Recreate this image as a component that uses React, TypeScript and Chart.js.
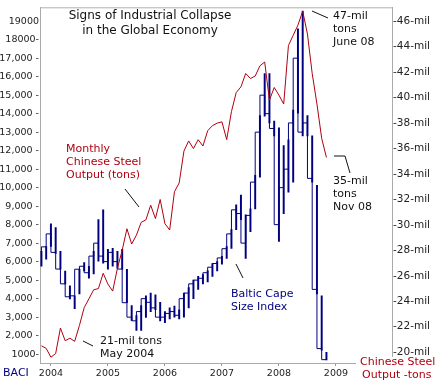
import React, { useEffect, useRef } from "react";
import { Chart, registerables } from "chart.js";
Chart.register(...registerables);

// month index: 0 = Jan 2004
const months = [-2,-1,0,1,2,3,4,5,6,7,8,9,10,11,12,13,14,15,16,17,18,19,20,21,22,23,24,25,26,27,28,29,30,31,32,33,34,35,36,37,38,39,40,41,42,43,44,45,46,47,48,49,50,51,52,53,54,55,56,57,58];

// Monthly Chinese steel output (million tons)
const steelMil = [20.5,20.3,19.6,19.9,21.9,20.9,21.1,20.85,22.1,23.5,24.2,24.9,25.0,26.2,25.35,24.8,26.6,28.0,29.7,28.5,29.2,30.2,30.4,31.55,30.5,32.0,30.1,29.6,32.6,33.3,35.8,36.6,36.0,36.7,36.2,37.4,37.8,38.0,38.1,36.7,38.9,40.4,40.85,41.9,41.5,41.7,42.5,42.8,39.8,40.8,40.2,39.5,44.1,44.9,45.7,46.8,45.0,41.9,39.5,36.8,35.3];

// Baltic Cape Size Index monthly range
const balticLow = [5760,6130,6820,6450,5590,4790,3990,3460,4260,5500,5110,5330,6020,5915,5590,5750,5650,5590,3780,2820,2280,2280,2980,3300,3400,2800,2700,2900,3000,2900,3000,3500,4000,4500,4800,4900,5200,5500,5860,6180,6720,7730,8270,6180,7620,8850,10560,13870,13500,12800,7090,8590,9760,10300,14030,12800,12800,10300,4260,1210,680];
const balticHigh = [6560,6820,8050,7840,6560,5490,4690,4150,5590,5950,5750,6560,8270,8800,6660,6715,6560,6660,5590,3620,3080,3620,4150,4300,4200,3800,3300,3500,3600,3400,4300,4600,5000,5200,5300,5500,5900,6000,6290,6820,7730,9070,9600,8530,8850,10670,13900,16170,16170,13600,13230,12270,12590,14200,18580,19540,13900,12800,10130,4150,1100];
const balticClose = [6500,6800,7500,6500,5600,4800,4100,4150,5590,5750,5400,6300,7000,6300,6000,6500,6000,5600,3780,3000,2800,3300,4000,3800,3500,3000,3000,3200,3300,3100,4000,4300,4800,5000,5100,5400,5700,5900,6200,6700,7500,8800,8600,7000,8500,10300,13000,15000,14000,13200,8000,10000,11000,13500,17000,13000,13500,10500,4500,1300,700];

const yearTicks = [0,12,24,36,48,60];
const yearLabels = ["2004","2005","2006","2007","2008","2009"];
const leftTicks = [1000,2000,3000,4000,5000,6000,7000,8000,9000,10000,11000,12000,13000,14000,15000,16000,17000,18000,19000];
const leftLabels = ["1000-","2,000 -","3,000 -","4,000 -","5,000 -","6,000 -","7,000 -","8,000 -","9,000 -","10,000 -","11,000 -","12,000 -","13,000 -","14,000 -","15,000 -","16,000 -","17,000 -","18000-","19000"];
const rightTicks = [20,22,24,26,28,30,32,34,36,38,40,42,44,46];

const RED = "#b00010";
const BLUE = "#000080";
const FONT = "DejaVu Sans";

const overlay = {
  id: "overlay",
  afterDraw(chart: any) {
    const ctx = chart.ctx;
    const ca = chart.chartArea;
    ctx.save();
    ctx.strokeStyle = "#b0b0b0";
    ctx.lineWidth = 1;
    ctx.beginPath();
    ctx.moveTo(ca.left, ca.top + 0.5);
    ctx.lineTo(ca.right, ca.top + 0.5);
    ctx.stroke();
    ctx.fillStyle = "#ffffff";
    ctx.fillRect(356, 357, 85, 26);

    const text = (s: string, x: number, y: number, color: string, size = 11, align: CanvasTextAlign = "left") => {
      ctx.font = `${size}px "${FONT}"`;
      ctx.fillStyle = color;
      ctx.textAlign = align;
      ctx.textBaseline = "middle";
      ctx.fillText(s, x, y);
    };
    const line = (pts: number[][], color: string) => {
      ctx.strokeStyle = color;
      ctx.lineWidth = 1;
      ctx.beginPath();
      pts.forEach((p, i) => (i ? ctx.lineTo(p[0], p[1]) : ctx.moveTo(p[0], p[1])));
      ctx.stroke();
    };

    text("Signs of Industrial Collapse", 150, 16, "#111", 12, "center");
    text("in the Global Economy", 150, 31, "#111", 12, "center");

    text("47-mil", 333, 16, "#111");
    text("tons", 333, 29, "#111");
    text("June 08", 333, 42, "#111");
    line([[312, 11], [328, 18]], "#111");

    text("35-mil", 333, 181, "#111");
    text("tons", 333, 194, "#111");
    text("Nov 08", 333, 207, "#111");
    line([[334, 156], [345, 156], [350, 173]], "#111");

    text("Monthly", 66, 149, RED);
    text("Chinese Steel", 66, 162, RED);
    text("Output (tons)", 66, 175, RED);
    line([[125, 189], [139, 207]], "#111");

    text("Baltic Cape", 231, 294, BLUE);
    text("Size Index", 231, 307, BLUE);
    line([[236, 264], [243, 278]], "#111");

    text("21-mil tons", 100, 341, "#111");
    text("May 2004", 100, 354, "#111");
    line([[83, 341], [93, 346]], "#111");

    text("BACI", 3, 373, BLUE);
    text("Chinese Steel", 360, 362, RED);
    text("Output -tons", 362, 375, RED);
    ctx.restore();
  },
};

export default function App() {
  const ref = useRef<HTMLCanvasElement | null>(null);
  useEffect(() => {
    if (!ref.current) return;
    const chart = new Chart(ref.current, {
      type: "bar",
      data: {
        datasets: [
          {
            type: "line",
            label: "Steel",
            data: months.map((m, i) => ({ x: m, y: steelMil[i] })),
            yAxisID: "y2",
            xAxisID: "x",
            borderColor: RED,
            borderWidth: 1,
            pointRadius: 0,
            tension: 0,
            order: 0,
          } as any,
          {
            type: "bar",
            label: "BACI range",
            data: months.map((m, i) => ({ x: m, y: [balticLow[i], balticHigh[i]] })),
            yAxisID: "y",
            xAxisID: "x",
            backgroundColor: BLUE,
            borderWidth: 0,
            barThickness: 1.3,
            grouped: false,
            order: 2,
          } as any,
          {
            type: "line",
            label: "BACI close",
            data: months.map((m, i) => ({ x: m, y: balticClose[i] })),
            yAxisID: "y",
            xAxisID: "x",
            borderColor: BLUE,
            borderWidth: 1,
            pointRadius: 0,
            stepped: "after",
            order: 1,
          } as any,
        ],
      },
      options: {
        animation: false,
        responsive: false,
        maintainAspectRatio: false,
        layout: { padding: { top: 3, left: 0, right: 0, bottom: 0 } },
        plugins: { legend: { display: false }, tooltip: { enabled: false }, title: { display: false } },
        scales: {
          x: {
            type: "linear",
            offset: false,
            min: -2.3,
            max: 71.8,
            position: "bottom",
            afterBuildTicks: (s: any) => {
              s.ticks = yearTicks.map((v) => ({ value: v }));
            },
            afterFit: (s: any) => {
              s.height = 20;
            },
            ticks: {
              autoSkip: false,
              maxRotation: 0,
              padding: 2,
              color: "#222",
              font: { family: FONT, size: 9.5 },
              callback: (v: any) => {
                const i = yearTicks.indexOf(Number(v));
                return i >= 0 ? yearLabels[i] : "";
              },
            },
            grid: { offset: false, drawOnChartArea: false, drawTicks: true, tickLength: 3, color: "#999" },
            border: { color: "#aaa" },
          },
          y: {
            position: "left",
            min: 520,
            max: 19750,
            afterBuildTicks: (s: any) => {
              s.ticks = leftTicks.map((v) => ({ value: v }));
            },
            afterFit: (s: any) => {
              s.width = 40;
            },
            ticks: {
              autoSkip: false,
              padding: 1,
              color: "#222",
              font: { family: FONT, size: 9.5 },
              callback: (v: any) => {
                const i = leftTicks.indexOf(Number(v));
                return i >= 0 ? leftLabels[i] : "";
              },
            },
            grid: { display: false, drawTicks: false, tickLength: 0 },
            border: { color: "#aaa" },
          },
          y2: {
            position: "right",
            min: 19.15,
            max: 47.1,
            afterBuildTicks: (s: any) => {
              s.ticks = rightTicks.map((v) => ({ value: v }));
            },
            afterFit: (s: any) => {
              s.width = 49;
            },
            ticks: {
              autoSkip: false,
              padding: 1,
              color: "#222",
              font: { family: FONT, size: 10.5 },
              callback: (v: any) => `-${v}-mil`,
            },
            grid: { display: false, drawTicks: false, tickLength: 0 },
            border: { color: "#aaa" },
          },
        },
      },
      plugins: [overlay],
    });
    return () => chart.destroy();
  }, []);
  return (
    <div style={{ position: "fixed", left: 0, top: 0, width: 441, height: 383, background: "#fff" }}>
      <canvas ref={ref} width={441} height={383} style={{ display: "block", width: 441, height: 383 }} />
    </div>
  );
}
